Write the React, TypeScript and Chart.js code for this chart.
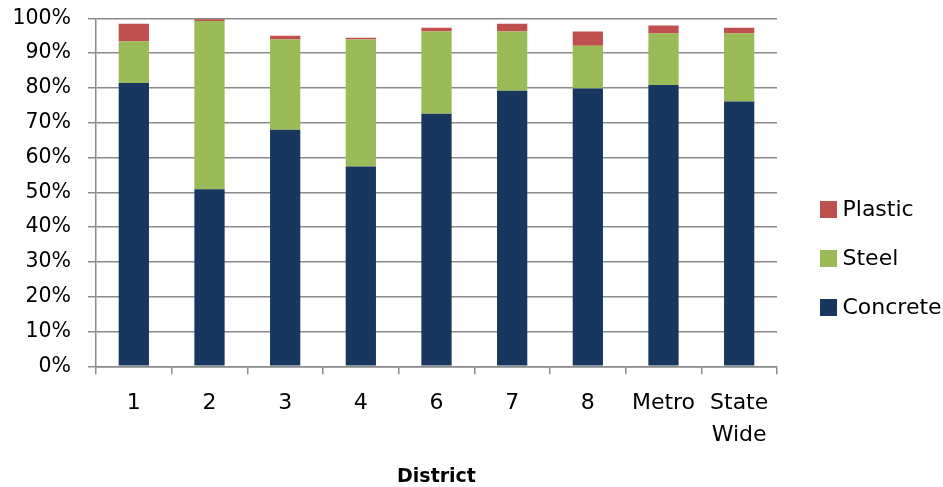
import React, { useEffect, useRef } from 'react';
import { Chart, registerables } from 'chart.js';

Chart.register(...registerables);

const categories: (string | string[])[] = ['1', '2', '3', '4', '6', '7', '8', 'Metro', ['State', 'Wide']];
const concrete = [81.4, 50.9, 68.0, 57.4, 72.6, 79.2, 79.8, 80.8, 76.1];
const steel = [11.9, 48.3, 25.9, 36.5, 23.6, 17.0, 12.3, 14.8, 19.5];
const plastic = [5.1, 0.5, 1.1, 0.5, 1.1, 2.2, 4.1, 2.3, 1.7];
const seriesNames = ['Concrete', 'Steel', 'Plastic'];
const seriesColors = ['#17375E', '#9BBB59', '#C0504D'];
const axisTitle = 'District';

const GRID = '#8a8a8a';
const FONT = '"DejaVu Sans", "Liberation Sans", sans-serif';

const sideLegend = {
  id: 'sideLegend',
  afterDraw(chart: any) {
    const ctx = chart.ctx as CanvasRenderingContext2D;
    const area = chart.chartArea;
    const items = [...chart.data.datasets].reverse();
    const x = area.right + 43;
    const cy = chart.height / 2 + 15;
    const gap = 49;
    ctx.save();
    ctx.font = `22px ${FONT}`;
    ctx.textBaseline = 'middle';
    ctx.textAlign = 'left';
    items.forEach((d: any, i: number) => {
      const y = cy + (i - (items.length - 1) / 2) * gap;
      ctx.fillStyle = d.backgroundColor;
      ctx.fillRect(x, y - 8.5, 17, 17);
      ctx.fillStyle = '#000';
      ctx.fillText(d.label, x + 22.5, y + 1);
    });
    ctx.restore();
  },
};

export default function App() {
  const ref = useRef<HTMLCanvasElement | null>(null);

  useEffect(() => {
    if (!ref.current) return;
    Chart.defaults.font.family = FONT;
    const values = [concrete, steel, plastic];
    const chart = new Chart(ref.current, {
      type: 'bar',
      data: {
        labels: categories as any,
        datasets: seriesNames.map((name, i) => ({
          label: name,
          data: values[i],
          backgroundColor: seriesColors[i],
          borderWidth: 0,
          barPercentage: 0.4,
          categoryPercentage: 1,
        })),
      },
      plugins: [sideLegend],
      options: {
        animation: false,
        responsive: true,
        maintainAspectRatio: false,
        layout: { padding: { top: 18.3, right: 166, left: 0, bottom: 0 } },
        plugins: {
          legend: { display: false },
          tooltip: { enabled: false },
        },
        scales: {
          x: {
            stacked: true,
            afterFit: (s: any) => {
              s.height = 120.7;
              s.paddingLeft = 0;
              s.paddingRight = 0;
            },
            grid: {
              display: true,
              drawOnChartArea: false,
              drawTicks: true,
              tickLength: 8,
              color: GRID,
              lineWidth: 1.5,
              offset: true,
            },
            border: { display: true, color: GRID, width: 1.5 },
            ticks: {
              color: '#000',
              padding: 12.7,
              maxRotation: 0,
              autoSkip: false,
              font: { size: 22, lineHeight: 1.45 },
            },
            title: {
              display: true,
              text: axisTitle,
              color: '#000',
              font: { size: 19, weight: 'bold', lineHeight: 1 },
              padding: { top: 0, bottom: 0 },
            },
          },
          y: {
            stacked: true,
            min: 0,
            max: 100,
            afterFit: (s: any) => {
              s.width = 96;
              s.paddingTop = 0;
              s.paddingBottom = 0;
            },
            grid: {
              color: GRID,
              lineWidth: 1.5,
              tickLength: 8,
              drawTicks: true,
            },
            border: { display: true, color: GRID, width: 1.5 },
            ticks: {
              stepSize: 10,
              color: '#000',
              padding: 17,
              font: { size: 20.5 },
              callback: (v: any) => `${v}%`,
            },
          },
        },
      },
    });
    return () => chart.destroy();
  }, []);

  return (
    <div style={{ position: 'fixed', left: 0, top: 0, width: 943, height: 487, background: '#fff' }}>
      <canvas ref={ref} />
    </div>
  );
}
